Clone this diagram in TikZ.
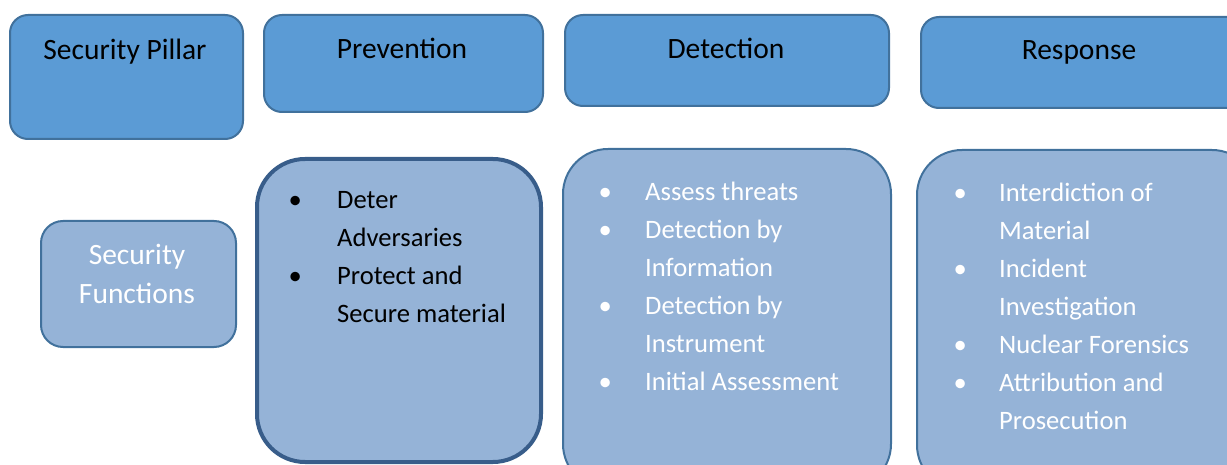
\documentclass[tikz,border=0pt]{standalone}
\usepackage{fontspec}
\setmainfont{Carlito}
\definecolor{headfill}{HTML}{5B9BD5}
\definecolor{headline}{HTML}{41719C}
\definecolor{bodyfill}{HTML}{95B3D7}
\definecolor{bodyline}{HTML}{41719C}
\definecolor{boldline}{HTML}{385D8A}
\tikzset{
  head/.style={draw=headline, fill=headfill, line width=2pt, rounded corners=18pt,
    anchor=north west, inner sep=0pt},
  body/.style={draw=bodyline, fill=bodyfill, line width=2pt, rounded corners=45pt,
    anchor=north west, inner sep=0pt},
  txt/.style={font=\fontsize{29.5}{39}\selectfont, inner sep=0pt, anchor=base},
  listtxt/.style={font=\fontsize{26.6}{38}\selectfont, inner sep=0pt, anchor=base west},
}
\begin{document}
\begin{tikzpicture}[x=1pt,y=-1pt]
  \useasboundingbox (0,0) rectangle (1227,465);
  \clip (0,0) rectangle (1227,465);
  % top row
  \node[head, minimum width=233pt, minimum height=124pt] (pillar) at (9,14) {};
  \node[head, minimum width=279pt, minimum height=97pt] (prevhead) at (263,14) {};
  \node[head, minimum width=324pt, minimum height=91pt] (dethead) at (564,14) {};
  \node[head, minimum width=340pt, minimum height=91pt] (resphead) at (920,16) {};
  \node[txt] (pillartxt) at (125,60) {Security Pillar};
  \node[txt] (prevtxt) at (402,58.5) {Prevention};
  \node[txt] (dettxt) at (726,58.5) {Detection};
  \node[txt] (resptxt) at (1079,60) {Response};
  % lower row
  \node[body, rounded corners=22pt, minimum width=195pt, minimum height=126pt] (funcs) at (40,220) {};
  \node[body, draw=boldline, line width=4pt, rounded corners=48pt,
    minimum width=284pt, minimum height=303pt] (prevbody) at (255,157) {};
  \node[body, minimum width=328pt, minimum height=340pt] (detbody) at (562,148) {};
  \node[body, minimum width=340pt, minimum height=340pt] (respbody) at (916,149) {};
  \node[txt, text=white] (funcstxt) at (137,265)
    {\begin{tabular}[t]{@{}c@{}}Security\\ Functions\end{tabular}};
  \node[listtxt] (prevlist) at (288.5,209)
    {\begin{tabular}[t]{@{}p{48.5pt}@{}l@{}}
      \textbullet & Deter\\
                  & Adversaries\\
      \textbullet & Protect and\\
                  & Secure material
    \end{tabular}};
  \node[listtxt, text=white] (detlist) at (598.5,201)
    {\begin{tabular}[t]{@{}p{46.5pt}@{}l@{}}
      \textbullet & Assess threats\\
      \textbullet & Detection by\\
                  & Information\\
      \textbullet & Detection by\\
                  & Instrument\\
      \textbullet & Initial Assessment
    \end{tabular}};
  \node[listtxt, text=white] (resplist) at (953.5,202)
    {\begin{tabular}[t]{@{}p{45.5pt}@{}l@{}}
      \textbullet & Interdiction of\\
                  & Material\\
      \textbullet & Incident\\
                  & Investigation\\
      \textbullet & Nuclear Forensics\\
      \textbullet & Attribution and\\
                  & Prosecution
    \end{tabular}};
\end{tikzpicture}
\end{document}
